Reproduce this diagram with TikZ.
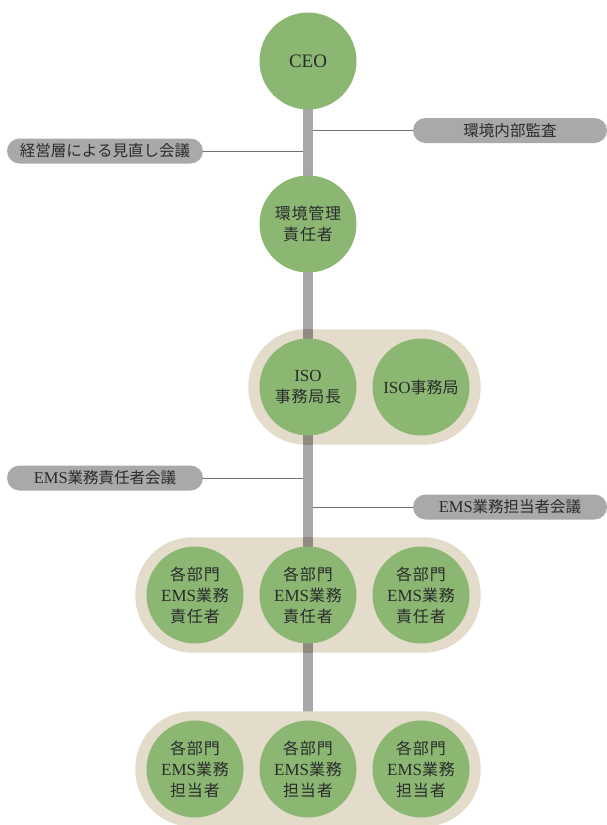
\documentclass[tikz,border=0pt]{standalone}
\usepackage{fontspec}
\setmainfont{Liberation Serif}
\newfontfamily\jpfont{Noto Sans CJK JP}[Scale=0.94]
\newfontfamily\jpfontsp{Noto Sans CJK JP}[Scale=0.94,LetterSpace=5]
\usetikzlibrary{fit,calc,backgrounds}
\newcommand\jp[1]{{\jpfontsp #1}}
\newcommand\jq[1]{{\jpfont #1}}

\definecolor{leaf}{HTML}{8BB773}
\definecolor{sand}{HTML}{E3DCCB}
\definecolor{trunk}{HTML}{A7A7AA}
\definecolor{trunkdark}{HTML}{8F8B80}
\definecolor{tag}{HTML}{A9A9AC}
\definecolor{ink}{HTML}{2B2B2B}
\definecolor{wire}{HTML}{707070}

\pgfdeclarelayer{back}
\pgfsetlayers{back,background,main}

\tikzset{
  person/.style={circle, fill=leaf, draw=none, minimum size=97pt, inner sep=0pt,
    align=center, text=ink, font=\fontsize{17}{21}\selectfont},
  group/.style={fill=sand, draw=none, inner xsep=11pt, inner ysep=9pt,
    rounded corners=57pt},
  tagbox/.style={fill=tag, draw=none, rounded corners=12.5pt, minimum height=25pt,
    inner sep=0pt, text=ink, font=\fontsize{16.5}{20}\selectfont},
  trunkline/.style={line width=10.5pt, draw=trunk},
  trunkover/.style={line width=10.5pt, draw=trunkdark},
  conn/.style={draw=wire, line width=0.9pt},
}

\begin{document}
\begin{tikzpicture}[x=1pt,y=-1pt]
\useasboundingbox (0,0) rectangle (607,825);

% people
\node[person, font=\fontsize{19}{21}\selectfont] (ceo) at (308,61) {CEO};
\node[person] (kanri) at (308,224) {\jp{環境管理}\\\jp{責任者}};
\node[person] (isochief) at (308,387) {ISO\\\jp{事務局長}};
\node[person] (isooffice) at (421,387) {ISO\jq{事務局}};
\node[person] (r1) at (195,595) {\jp{各部門}\\EMS\jp{業務}\\\jp{責任者}};
\node[person] (r2) at (308,595) {\jp{各部門}\\EMS\jp{業務}\\\jp{責任者}};
\node[person] (r3) at (421,595) {\jp{各部門}\\EMS\jp{業務}\\\jp{責任者}};
\node[person] (t1) at (195,769) {\jp{各部門}\\EMS\jp{業務}\\\jp{担当者}};
\node[person] (t2) at (308,769) {\jp{各部門}\\EMS\jp{業務}\\\jp{担当者}};
\node[person] (t3) at (421,769) {\jp{各部門}\\EMS\jp{業務}\\\jp{担当者}};

% meeting tags
\node[tagbox, minimum width=196pt] (keiei) at (105,151) {\jq{経営層による見直し会議}};
\node[tagbox, minimum width=194pt] (naibu) at (510,130.5) {\jq{環境内部監査}};
\node[tagbox, minimum width=196pt] (sekinin) at (105,478) {EMS\jq{業務責任者会議}};
\node[tagbox, minimum width=194pt] (tanto) at (510,507) {EMS\jq{業務担当者会議}};

% edges of the trunk
\coordinate (barL) at ($(ceo.center)+(-5.25,0)$);
\coordinate (barR) at ($(ceo.center)+(5.25,0)$);

% group backgrounds; the trunk shows through the upper two
\begin{scope}[on background layer]
  \node[group, fit=(isochief)(isooffice)] (giso) {};
  \node[group, fit=(r1)(r3)] (gres) {};
  \node[group, fit=(t1)(t3)] (gtan) {};
  \foreach \g in {giso,gres}{
    \begin{scope}
      \clip[rounded corners=57pt] (\g.south west) rectangle (\g.north east);
      \draw[trunkover] (ceo.center) -- (t2.center);
    \end{scope}
  }
\end{scope}

% trunk and connectors
\begin{pgfonlayer}{back}
  \draw[trunkline] (ceo.center) -- (t2.center);
\end{pgfonlayer}
\draw[conn] (keiei.east) -- (keiei.east -| barL);
\draw[conn] (sekinin.east) -- (sekinin.east -| barL);
\draw[conn] (naibu.west) -- (naibu.west -| barR);
\draw[conn] (tanto.west) -- (tanto.west -| barR);
\end{tikzpicture}
\end{document}
